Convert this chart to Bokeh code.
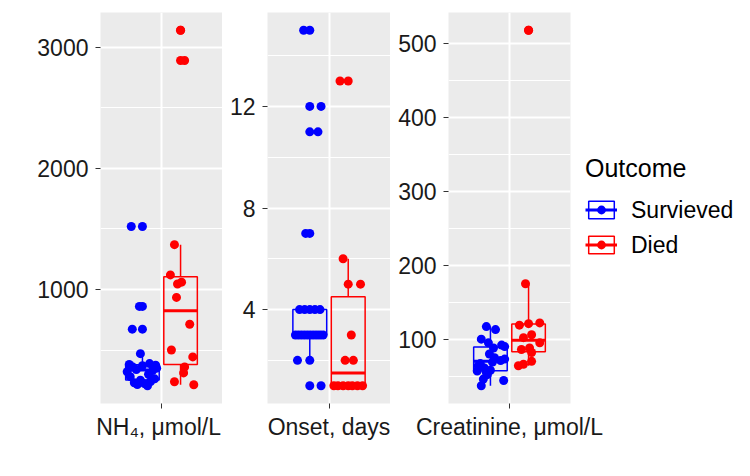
import numpy as np
from bokeh.plotting import figure
from bokeh.models import Range1d, FixedTicker, Legend, LegendItem
from bokeh.layouts import row
from bokeh.embed import file_html
from bokeh.resources import INLINE

# ---------------- data ----------------
outcomes = ["Survieved", "Died"]
outcome_colors = ["#0000FF", "#FF0000"]
panel_labels = ["NH\u2084, \u03bcmol/L", "Onset, days", "Creatinine, \u03bcmol/L"]

nh4_survived = [205, 215, 222, 230, 240, 250, 262, 280, 300, 320, 330, 338, 350,
                362, 370, 375, 380, 388, 470, 672, 860, 1520]
nh4_died = [213, 238, 311, 360, 443, 500, 713, 934, 1045, 1060, 1120, 1370, 2890, 3140]

onset_survived = [1, 2, 2, 3, 3, 3, 3, 3, 3, 3, 3, 3, 3, 4, 4, 4, 4, 4, 7, 11, 12, 15]
onset_died = [1, 1, 1, 1, 1, 1, 1, 2, 2, 3, 5, 5, 6, 13]

creat_survived = [37, 44, 46, 52, 55, 57, 58, 61, 64, 67, 69, 71, 73, 75, 80, 88, 90,
                  92, 95, 100, 113, 117]
creat_died = [64, 66, 70, 82, 86, 88, 95, 102, 106, 119, 121, 122, 175, 518]

# jitter offsets of the points (x units)
nh4_survived_jit = [0.05, -0.05, 0.02, -0.08, 0.08, -0.02, 0.12, -0.12, 0.06, -0.15, 0.10,
                    -0.06, 0.14, -0.10, 0.0, 0.13, -0.13, 0.07, -0.02, -0.10, -0.03, -0.11]
nh4_died_jit = [0.13, -0.06, 0.03, 0.04, 0.12, -0.09, 0.09, -0.04, -0.03, 0.01, -0.10,
                -0.06, 0.04, 0.0]
onset_survived_jit = [0.11, -0.12, 0.0, -0.14, -0.11, -0.08, -0.05, -0.02, 0.01, 0.04,
                      0.07, 0.10, 0.13, -0.10, -0.05, 0.0, 0.05, 0.10, -0.04, 0.08, 0.11, -0.06]
onset_died_jit = [-0.14, -0.10, -0.05, 0.0, 0.04, 0.09, 0.14, -0.03, 0.05, 0.03, 0.0,
                  0.12, -0.05, -0.08]
creat_survived_jit = [-0.09, 0.13, -0.07, -0.03, -0.04, -0.13, 0.0, -0.06, -0.12, -0.10,
                      0.02, 0.10, 0.14, 0.04, -0.01, 0.03, 0.14, 0.11, -0.02, -0.09, 0.05, -0.04]
creat_died_jit = [-0.10, -0.05, 0.03, 0.03, -0.07, 0.01, 0.11, -0.05, 0.03, -0.09, 0.0,
                  0.11, -0.03, 0.0]

nh4_major = [1000, 2000, 3000]
nh4_minor = [500, 1500, 2500]
onset_major = [4, 8, 12]
onset_minor = [2, 6, 10, 14]
creat_major = [100, 200, 300, 400, 500]
creat_minor = [50, 150, 250, 350, 450]

# ---------------- styling ----------------
FONT = "Liberation Sans"
BG = "#EBEBEB"
DODGE = 0.1875
HALF_BOX = 0.165
PT_SIZE = 9
FRAME_H = 391


def box_stats(vals):
    v = np.asarray(vals, dtype=float)
    q1, med, q3 = np.percentile(v, [25, 50, 75])
    iqr = q3 - q1
    lo, hi = q1 - 1.5 * iqr, q3 + 1.5 * iqr
    inside = v[(v >= lo) & (v <= hi)]
    out = v[(v < lo) | (v > hi)]
    return q1, med, q3, inside.min(), inside.max(), out


def make_panel(label, series, jitters, major, minor, left, fw, right, with_legend=False):
    allv = np.concatenate([np.asarray(s, float) for s in series])
    span = allv.max() - allv.min()
    yr = Range1d(allv.min() - 0.05 * span, allv.max() + 0.05 * span)
    p = figure(frame_width=fw, frame_height=FRAME_H, x_range=Range1d(0.4, 1.6), y_range=yr,
               output_backend="svg", toolbar_location=None,
               min_border_left=left, min_border_right=right,
               min_border_top=12, min_border_bottom=73)
    p.background_fill_color = BG
    p.border_fill_color = "white"
    p.outline_line_color = None

    p.yaxis.ticker = FixedTicker(ticks=major, minor_ticks=minor)
    p.xaxis.ticker = FixedTicker(ticks=[1])
    p.xaxis.major_label_overrides = {1: label}
    for ax in (p.xaxis[0], p.yaxis[0]):
        ax.axis_line_color = None
        ax.major_tick_line_color = "#333333"
        ax.major_tick_line_width = 1
        ax.major_tick_out = 5
        ax.major_tick_in = 0
        ax.minor_tick_line_color = None
        ax.major_label_text_font = FONT
        ax.major_label_text_font_size = "23px"
        ax.major_label_text_color = "#1a1a1a"
    p.yaxis.major_label_standoff = 7
    p.xaxis.major_label_standoff = 5

    p.ygrid.grid_line_color = "white"
    p.ygrid.grid_line_width = 2
    p.ygrid.minor_grid_line_color = "white"
    p.ygrid.minor_grid_line_width = 1
    p.xgrid.ticker = FixedTicker(ticks=[1])
    p.xgrid.grid_line_color = "white"
    p.xgrid.grid_line_width = 2

    items = []
    for k, (vals, jit) in enumerate(zip(series, jitters)):
        c = 1 - DODGE if k == 0 else 1 + DODGE
        col = outcome_colors[k]
        q1, med, q3, wlo, whi, out = box_stats(vals)
        p.segment(x0=[c, c], y0=[q3, q1], x1=[c, c], y1=[whi, wlo],
                  line_color=col, line_width=1.5)
        rb = p.quad(left=[c - HALF_BOX], right=[c + HALF_BOX], bottom=[q1], top=[q3],
                    fill_alpha=0, line_color=col, line_width=1.5)
        rm = p.segment(x0=[c - HALF_BOX], y0=[med], x1=[c + HALF_BOX], y1=[med],
                       line_color=col, line_width=3)
        if len(out):
            p.scatter(x=[c] * len(out), y=list(out), size=PT_SIZE, color=col, line_width=0)
        xs = [c + j for j in jit]
        rp = p.scatter(x=xs, y=vals, size=PT_SIZE, color=col, line_width=0)
        items.append(LegendItem(label=outcomes[k], renderers=[rb, rm, rp]))

    if with_legend:
        leg = Legend(items=items, location="center_left")
        leg.title = "Outcome"
        leg.title_text_font = FONT
        leg.title_text_font_size = "25px"
        leg.title_text_font_style = "normal"
        leg.title_text_color = "black"
        leg.title_standoff = 10
        leg.label_text_font = FONT
        leg.label_text_font_size = "23px"
        leg.label_text_color = "black"
        leg.glyph_width = 32
        leg.glyph_height = 22
        leg.label_height = 35
        leg.label_standoff = 14
        leg.spacing = 0
        leg.margin = 15
        leg.padding = 8
        leg.border_line_color = None
        leg.background_fill_alpha = 0
        p.add_layout(leg, "right")
    return p


p1 = make_panel(panel_labels[0], [nh4_survived, nh4_died], [nh4_survived_jit, nh4_died_jit],
                nh4_major, nh4_minor, 100, 122, 0)
p2 = make_panel(panel_labels[1], [onset_survived, onset_died], [onset_survived_jit, onset_died_jit],
                onset_major, onset_minor, 45, 123, 0)
p3 = make_panel(panel_labels[2], [creat_survived, creat_died], [creat_survived_jit, creat_died_jit],
                creat_major, creat_minor, 58, 122, 180, with_legend=True)

layout = row(p1, p2, p3)
open("out.html", "w").write(file_html(layout, INLINE))
